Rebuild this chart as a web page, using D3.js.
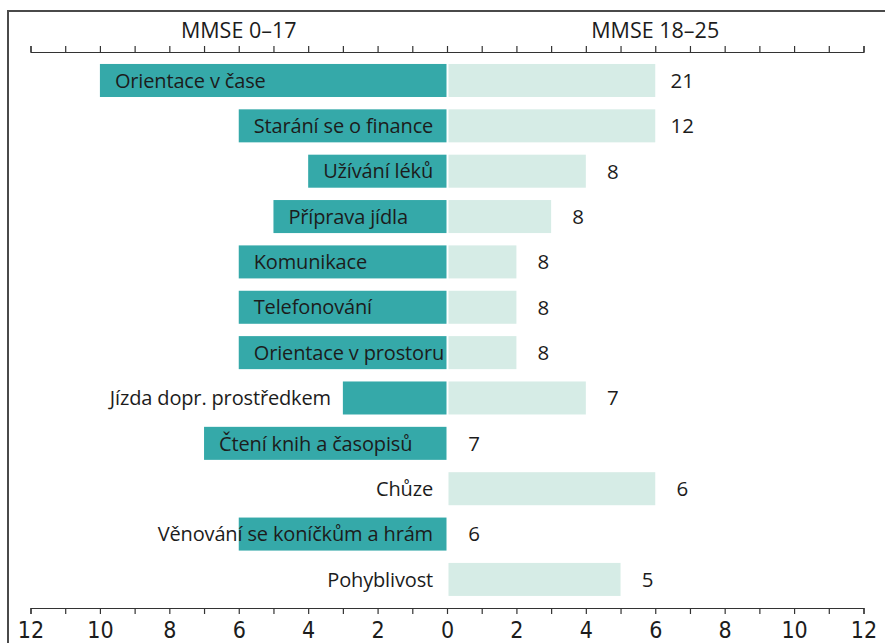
<!DOCTYPE html>
<html>
<head>
<meta charset="utf-8">
<script src="https://cdn.jsdelivr.net/npm/d3@7"></script>
<style>
  body { margin: 0; background: #fff; }
  svg text { fill: #1c1c1c; }
  .axis path, .axis line { stroke: #333; stroke-width: 1.2; }
  .axis text { font-family: 'Liberation Sans Narrow', 'DejaVu Sans Condensed', sans-serif; font-size: 23px; fill: #1c1c1c; }
</style>
</head>
<body>
<div class="chart-container"></div>
<script>
// data
const categories = [
    'Orientace v čase',
    'Starání se o finance',
    'Užívání léků',
    'Příprava jídla',
    'Komunikace',
    'Telefonování',
    'Orientace v prostoru',
    'Jízda dopr. prostředkem',
    'Čtení knih a časopisů',
    'Chůze',
    'Věnování se koníčkům a hrám',
    'Pohyblivost'
];
const mmseLow = [10, 6, 4, 5, 6, 6, 6, 3, 7, 0, 6, 0];   // MMSE 0–17 (left)
const mmseHigh = [6, 6, 4, 3, 2, 2, 2, 4, 0, 6, 0, 5];  // MMSE 18–25 (right)
const totals = [21, 12, 8, 8, 8, 8, 8, 7, 7, 6, 6, 5];
const groupLabels = ['MMSE 0–17', 'MMSE 18–25'];
const tickValues = d3.range(-12, 13, 1);

const rows = categories.map((c, i) => ({
    name: c,
    low: mmseLow[i],
    high: mmseHigh[i],
    total: totals[i]
}));

const width = 885;
const height = 643;
const darkTeal = '#35a9a9';
const lightTeal = '#d6ece6';
const labelFont = "'Open Sans', 'Noto Sans', sans-serif";

const svg = d3.select('.chart-container')
    .append('svg')
    .attr('width', width)
    .attr('height', height);

// scales
const xScale = d3.scaleLinear()
    .domain([-12, 12])
    .range([30.5, 863.5]);

const yScale = d3.scaleBand()
    .domain(categories)
    .range([57.8, 602.1])
    .paddingInner(0.272)
    .paddingOuter(0.136);

const x0 = xScale(0);

// frame (top and left edges)
svg.append('path')
    .attr('d', `M8,${height} V11 H${width}`)
    .attr('fill', 'none')
    .attr('stroke', '#4a4a4a')
    .attr('stroke-width', 2);

// group headers
svg.append('g')
    .selectAll('text')
    .data(groupLabels)
    .join('text')
    .attr('x', (d, i) => xScale(i === 0 ? -6 : 6))
    .attr('y', 38)
    .attr('text-anchor', 'middle')
    .style('font-family', labelFont)
    .style('font-size', '21.5px')
    .text(d => d);

// axes
const topAxis = d3.axisTop(xScale)
    .tickValues(tickValues)
    .tickFormat('')
    .tickSizeInner(6)
    .tickSizeOuter(6);

svg.append('g')
    .attr('class', 'axis')
    .attr('transform', 'translate(0, 52)')
    .call(topAxis);

const bottomAxis = d3.axisBottom(xScale)
    .tickValues(tickValues)
    .tickFormat(d => (d % 2 === 0 ? Math.abs(d) : ''))
    .tickSizeInner(6)
    .tickSizeOuter(6)
    .tickPadding(8);

svg.append('g')
    .attr('class', 'axis')
    .attr('transform', 'translate(0, 608)')
    .call(bottomAxis);

// bars
const bars = svg.append('g').attr('class', 'bars');

bars.selectAll('.bar-high')
    .data(rows.filter(d => d.high > 0))
    .join('rect')
    .attr('class', 'bar-high')
    .attr('x', x0 + 1.5)
    .attr('y', d => yScale(d.name))
    .attr('width', d => xScale(d.high) - x0 - 1.5)
    .attr('height', yScale.bandwidth())
    .attr('fill', lightTeal);

bars.selectAll('.bar-low')
    .data(rows.filter(d => d.low > 0))
    .join('rect')
    .attr('class', 'bar-low')
    .attr('x', d => xScale(-d.low))
    .attr('y', d => yScale(d.name))
    .attr('width', d => x0 - 0.5 - xScale(-d.low))
    .attr('height', yScale.bandwidth())
    .attr('fill', darkTeal);

// category labels: inside the dark bar if they fit, else left of it, else against zero
const labels = svg.append('g')
    .selectAll('text')
    .data(rows)
    .join('text')
    .attr('y', d => yScale(d.name) + yScale.bandwidth() / 2)
    .attr('dy', '0.36em')
    .style('font-family', labelFont)
    .style('font-size', '20px')
    .style('letter-spacing', '-0.15px')
    .text(d => d.name);

labels.each(function(d) {
    const w = this.getComputedTextLength();
    const start = xScale(-d.low);
    const label = d3.select(this);
    if (d.low > 0 && w + 15 < x0 - start) {
        label.attr('x', start + 15).attr('text-anchor', 'start');
    } else if (d.low > 0 && start - 12 - w > xScale(-12)) {
        label.attr('x', start - 12).attr('text-anchor', 'end');
    } else {
        label.attr('x', x0 - 14).attr('text-anchor', 'end');
    }
});

// totals
svg.append('g')
    .selectAll('text')
    .data(rows)
    .join('text')
    .attr('x', d => xScale(d.high) + 27)
    .attr('y', d => yScale(d.name) + yScale.bandwidth() / 2)
    .attr('dy', '0.36em')
    .attr('text-anchor', 'middle')
    .style('font-family', labelFont)
    .style('font-size', '20.5px')
    .text(d => d.total);
</script>
</body>
</html>
